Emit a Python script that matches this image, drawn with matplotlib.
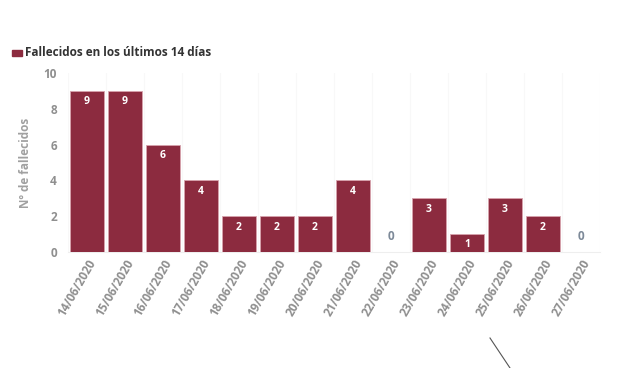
import matplotlib.pyplot as plt
import numpy as np

fechas = ["14/06/2020", "15/06/2020", "16/06/2020", "17/06/2020", "18/06/2020",
          "19/06/2020", "20/06/2020", "21/06/2020", "22/06/2020", "23/06/2020",
          "24/06/2020", "25/06/2020", "26/06/2020", "27/06/2020"]
fallecidos = [9, 9, 6, 4, 2, 2, 2, 4, 0, 3, 1, 3, 2, 0]

plt.rcParams['font.family'] = ['Open Sans', 'DejaVu Sans']

fig = plt.figure(figsize=(6.2, 3.68), dpi=100)
ax = fig.add_axes([68 / 620, 1 - 252 / 368, 532 / 620, 179 / 368])

x = np.arange(len(fechas))
ax.bar(x, fallecidos, width=0.88, color='#8c2b3f',
       edgecolor='#d7a3ad', linewidth=0.6, zorder=3)

for xi, v in zip(x, fallecidos):
    if v > 0:
        ax.text(xi, v - 0.3, str(v), ha='center', va='top', color='white',
                fontsize=7.5, fontweight='bold', zorder=4)
    else:
        ax.text(xi, 0.5, str(v), ha='center', va='bottom', color='#7d8a99',
                fontsize=8.5, fontweight='bold', zorder=4)

ax.set_xlim(-0.5, len(fechas) - 0.5)
ax.set_ylim(0, 10)
ax.set_yticks([0, 2, 4, 6, 8, 10])
ax.set_xticks(x)
ax.set_xticklabels(fechas, rotation=60, ha='right', rotation_mode='anchor',
                   fontsize=8.5, fontweight='bold', color='#8f8f8f')
ax.tick_params(axis='y', labelsize=8.5, labelcolor='#8f8f8f', length=0, pad=8)
ax.tick_params(axis='x', length=0, pad=4)
for lab in ax.get_yticklabels():
    lab.set_fontweight('bold')

ax.set_ylabel('Nº de fallecidos', fontsize=8.5, fontweight='bold',
              color='#a0a0a0', labelpad=8)

for s in ['top', 'right', 'left']:
    ax.spines[s].set_visible(False)
ax.spines['bottom'].set_color('#eeeeee')

for b in np.arange(-0.5, len(fechas), 1):
    ax.axvline(b, color='#f8f8f8', linewidth=0.8, zorder=0)

# leyenda
fig.patches.append(plt.Rectangle((12 / 620, 1 - 56 / 368), 10 / 620, 6 / 368,
                                 transform=fig.transFigure, color='#8c2b3f'))
fig.text(25 / 620, 1 - 52 / 368, 'Fallecidos en los últimos 14 días',
         fontsize=8.5, fontweight='bold', color='#333333', va='center')

# trazo diagonal inferior
fig.add_artist(plt.Line2D([490 / 620, 510 / 620], [1 - 338 / 368, 1 - 368 / 368],
                          transform=fig.transFigure, color='#555555', linewidth=0.8))

fig.savefig('out.png', dpi=100)
